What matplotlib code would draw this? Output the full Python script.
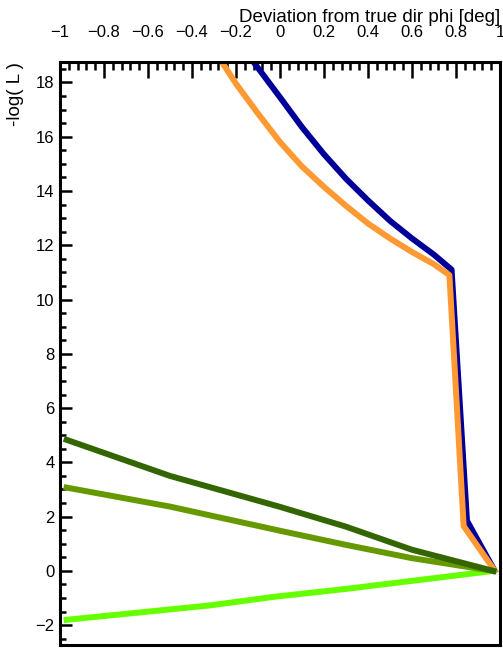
import matplotlib
matplotlib.use('Agg')
import matplotlib.pyplot as plt
from matplotlib.ticker import MultipleLocator

# curves
navy_x = [-0.20, -0.121, 0.0, 0.1, 0.2, 0.3, 0.4, 0.5, 0.6, 0.7, 0.78, 0.85, 0.975]
navy_y = [19.75, 18.76, 17.45, 16.35, 15.35, 14.45, 13.65, 12.90, 12.25, 11.65, 11.10, 1.85, 0.02]

orange_x = [-0.35, -0.265, -0.2, -0.1, 0.0, 0.1, 0.2, 0.3, 0.4, 0.5, 0.6, 0.7, 0.77, 0.835, 0.975]
orange_y = [19.80, 18.76, 17.95, 16.85, 15.80, 14.90, 14.15, 13.45, 12.80, 12.25, 11.75, 11.30, 10.90, 1.65, 0.02]

dkgreen_x = [-0.97, -0.5, 0.0, 0.3, 0.6, 0.97]
dkgreen_y = [4.83, 3.50, 2.36, 1.63, 0.78, 0.0]

olive_x = [-0.97, -0.5, 0.0, 0.3, 0.6, 0.97]
olive_y = [3.07, 2.37, 1.48, 0.96, 0.47, 0.0]

bright_x = [-0.97, -0.318, -0.023, 0.303, 0.97]
bright_y = [-1.80, -1.27, -0.95, -0.66, 0.0]

plt.rcParams['font.family'] = ['Liberation Sans', 'DejaVu Sans']

fig = plt.figure(figsize=(5.03, 6.48), dpi=100)
ax = fig.add_axes([0.1193, 0.0046, 0.994 - 0.1193, 0.9043 - 0.0046])

lw = 4.3
ax.plot(navy_x, navy_y, color='#000099', lw=lw)
ax.plot(orange_x, orange_y, color='#ff9933', lw=lw)
ax.plot(bright_x, bright_y, color='#66ff00', lw=lw)
ax.plot(olive_x, olive_y, color='#669900', lw=lw)
ax.plot(dkgreen_x, dkgreen_y, color='#336600', lw=lw)

ax.set_xlim(-1, 1)
ax.set_ylim(-2.73, 18.75)

ax.xaxis.tick_top()
ax.xaxis.set_label_position('top')
ax.xaxis.set_major_locator(MultipleLocator(0.2))
ax.xaxis.set_minor_locator(MultipleLocator(0.04))
ax.yaxis.set_major_locator(MultipleLocator(2))
ax.yaxis.set_minor_locator(MultipleLocator(0.5))

ax.tick_params(axis='x', which='major', direction='in', length=11.5, width=1.8, labelsize=12, pad=16)
ax.tick_params(axis='x', which='minor', direction='in', length=5.8, width=1.8)
ax.tick_params(axis='y', which='major', direction='in', length=8.6, width=1.8, labelsize=12, pad=4)
ax.tick_params(axis='y', which='minor', direction='in', length=4.3, width=1.8)

ax.set_xticks([-1, -0.8, -0.6, -0.4, -0.2, 0, 0.2, 0.4, 0.6, 0.8, 1])
ax.set_xticklabels(['\u22121', '\u22120.8', '\u22120.6', '\u22120.4', '\u22120.2', '0', '0.2', '0.4', '0.6', '0.8', '1'])

for s in ax.spines.values():
    s.set_linewidth(2.2)

ax.set_xlabel('Deviation from true dir phi [deg]', loc='right', fontsize=13.5, labelpad=2)
ax.set_ylabel('-log( L )', loc='top', fontsize=13.5, labelpad=8)

fig.savefig('out.png', dpi=100)
